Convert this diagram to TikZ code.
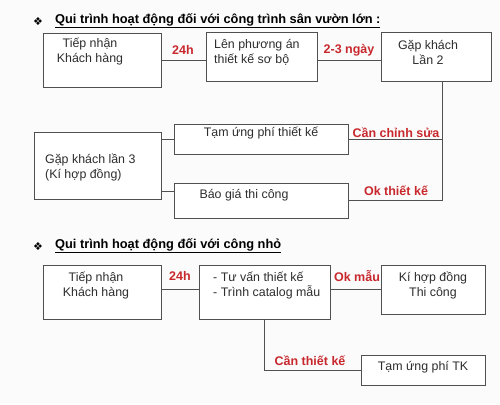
\documentclass[tikz,border=0pt]{standalone}
\usepackage{fontspec}
\setmainfont{Liberation Sans}
\newfontfamily\symfont{DejaVu Sans}
\usepackage{xcolor}
\usetikzlibrary{calc}
\definecolor{lblred}{RGB}{200,40,45}
\definecolor{linegray}{RGB}{80,80,80}
\definecolor{txtgray}{RGB}{45,45,45}

\begin{document}
\begin{tikzpicture}[x=1pt,y=-1pt,
	box/.style={draw=linegray,line width=0.9pt,fill=white,inner sep=0pt},
	txt/.style={font=\fontsize{12.4}{15}\selectfont,text=txtgray,inner sep=0pt},
	lbl/.style={font=\fontsize{12.5}{14}\selectfont\bfseries,text=lblred,inner sep=0pt},
	ttl/.style={font=\fontsize{12.8}{14}\selectfont\bfseries,anchor=west,inner sep=0pt},
	conn/.style={draw=linegray,line width=0.9pt}]
	\useasboundingbox[fill=gray!3] (0,0) rectangle (500,404);
	% big garden works
	\node[font=\fontsize{11}{12}\symfont] (bul1) at (38,22) {❖};
	\node[ttl] (ttl1) at (55,21) {\underline{Qui trình hoạt động đối với công trình sân vườn lớn :}};
	\node[box,minimum width=118,minimum height=54] (a1) at (102,60) {};
	\node[box,minimum width=111,minimum height=49] (a2) at (261.5,56.5) {};
	\node[box,minimum width=110,minimum height=49] (a3) at (436,56.5) {};
	\node[txt,align=center] (a1t) at (90,52) {Tiếp nhận\\Khách hàng};
	\node[txt,align=left,anchor=west] (a2t) at (214,52) {Lên phương án\\thiết kế sơ bộ};
	\node[txt,align=center] (a3t) at (428,52) {Gặp khách\\Lần 2};
	\draw[conn] (a1.east) -- (a1.east -| a2.west);
	\draw[conn] (a2.east |- a1.east) -- (a1.east -| a3.west);
	\node[lbl] (l24a) at (183,50) {24h};
	\node[lbl] (l23) at (349,50) {2-3 ngày};
	\node[box,minimum width=174,minimum height=30] (b1) at (261,139) {};
	\node[box,minimum width=174,minimum height=35] (b2) at (261,200.5) {};
	\node[box,minimum width=127,minimum height=67] (c) at (97.5,165.5) {};
	\node[txt] (b1t) at (261,133) {Tạm ứng phí thiết kế};
	\node[txt] (b2t) at (244,195) {Báo giá thi công};
	\node[txt,align=left,anchor=west] (ct) at (45,168) {Gặp khách lần 3\\(Kí hợp đồng)};
	\coordinate (turn) at ($(a3.south)+(6,0)$);
	\draw[conn] (turn) |- (b2.east);
	\draw[conn] (b1.east) -- (b1.east -| turn);
	\draw[conn] (b1.west) -- (b1.west -| c.east);
	\draw[conn] ([yshift=9pt]b2.west) -- ([yshift=9pt]b2.west -| c.east);
	\node[lbl] (lsua) at (396,133) {Cần chỉnh sửa};
	\node[lbl] (lok) at (396,191) {Ok thiết kế};
	% small works
	\node[font=\fontsize{11}{12}\symfont] (bul2) at (38,247) {❖};
	\node[ttl] (ttl2) at (55,246) {\underline{Qui trình hoạt động đối với công nhỏ}};
	\node[box,minimum width=118,minimum height=54] (d1) at (102,292) {};
	\node[box,minimum width=131,minimum height=54] (d2) at (264.5,292) {};
	\node[box,minimum width=104,minimum height=49] (d3) at (433,289.5) {};
	\node[box,minimum width=124,minimum height=30] (e) at (423,370) {};
	\node[txt,align=center] (d1t) at (96,286) {Tiếp nhận\\Khách hàng};
	\node[txt,align=left,anchor=west] (d2t) at (213,286) {- Tư vấn thiết kế\\- Trình catalog mẫu};
	\node[txt,align=center] (d3t) at (433,286) {Kí hợp đồng\\Thi công};
	\node[txt] (et) at (423,367) {Tạm ứng phí TK};
	\draw[conn] (d1.east |- d3.west) -- (d2.west |- d3.west);
	\draw[conn] (d2.east |- d3.west) -- (d3.west);
	\draw[conn] (d2.south) |- (e.west);
	\node[lbl] (l24b) at (180,276) {24h};
	\node[lbl] (lmau) at (357,276) {Ok mẫu};
	\node[lbl] (lcan) at (310,361) {Cần thiết kế};
\end{tikzpicture}
\end{document}
